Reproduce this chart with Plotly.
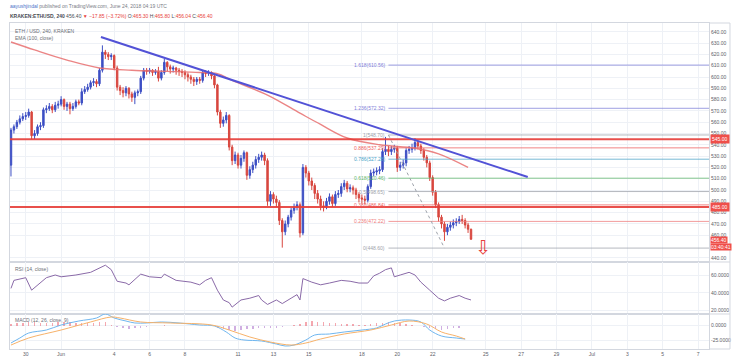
import pandas as pd
import plotly.graph_objects as go
from plotly.subplots import make_subplots

# ---------------- data ----------------
times = pd.date_range("2018-05-29 04:00", periods=157, freq="4h")

opens = [
    522, 553, 556, 560, 563, 565, 566, 569, 548, 550,
    556, 557, 571, 572, 574, 571, 575, 576, 580, 574,
    576, 572, 574, 578, 577, 587, 589, 591, 595, 596,
    594, 606, 622, 620, 618, 619, 608, 591, 588, 586,
    590, 585, 582, 586, 587, 599, 606, 605, 606, 604,
    605, 599, 604, 613, 609, 607, 608, 606, 605, 604,
    602, 600, 598, 596, 598, 597, 604, 603, 604, 601,
    593, 569, 559, 562, 566, 538, 526, 531, 522, 528,
    533, 513, 518, 522, 527, 529, 531, 526, 490, 496,
    492, 489, 473, 463, 470, 476, 482, 485, 487, 462,
    520, 515, 508, 504, 497, 492, 486, 485, 490, 494,
    488, 496, 497, 503, 506, 501, 502, 500, 496, 493,
    492, 491, 503, 515, 516, 517, 518, 534, 536, 534,
    536, 537, 520, 522, 524, 535, 536, 537, 542, 539,
    535, 529, 524, 511, 498, 487, 476, 470, 463, 467,
    469, 471, 472, 474, 473, 469, 465.3]
closes = [
    553, 556, 560, 563, 565, 566, 569, 548, 550, 556,
    557, 571, 572, 574, 571, 575, 576, 580, 574, 576,
    572, 574, 578, 577, 587, 589, 591, 595, 596, 594,
    606, 622, 620, 618, 619, 608, 591, 588, 586, 590,
    585, 582, 586, 587, 599, 606, 605, 606, 604, 605,
    599, 604, 613, 609, 607, 608, 606, 605, 604, 602,
    600, 598, 596, 598, 597, 604, 603, 604, 601, 593,
    569, 559, 562, 566, 538, 526, 531, 522, 528, 533,
    513, 518, 522, 527, 529, 531, 526, 490, 496, 492,
    489, 473, 463, 470, 476, 482, 485, 487, 462, 520,
    515, 508, 504, 497, 492, 486, 485, 490, 494, 488,
    496, 497, 503, 506, 501, 502, 500, 496, 493, 492,
    491, 503, 515, 516, 517, 518, 534, 536, 534, 536,
    537, 520, 522, 524, 535, 536, 537, 542, 539, 535,
    529, 524, 511, 498, 487, 476, 470, 463, 467, 469,
    471, 472, 474, 473, 469, 465.3, 456.4]
highs = [
    555, 558, 562, 566, 568, 569, 572, 570, 553, 558,
    560, 573, 575, 577, 576, 578, 579, 583, 581, 578,
    578, 577, 580, 580, 590, 592, 594, 597, 599, 598,
    608, 628, 624, 622, 621, 620, 610, 593, 591, 592,
    591, 587, 588, 589, 601, 608, 608, 608, 607, 607,
    609, 606, 616, 614, 611, 610, 609, 608, 607, 606,
    604, 602, 600, 600, 600, 606, 606, 606, 605, 603,
    594, 571, 565, 569, 567, 540, 534, 533, 531, 535,
    534, 521, 525, 530, 532, 534, 533, 528, 499, 498,
    495, 491, 475, 473, 478, 484, 488, 490, 489, 523,
    522, 517, 511, 506, 500, 495, 490, 493, 497, 496,
    499, 500, 506, 509, 508, 505, 504, 502, 498, 496,
    495, 505, 518, 519, 520, 521, 537, 547, 539, 539,
    540, 539, 525, 527, 537, 539, 541, 546, 544, 541,
    537, 531, 526, 513, 500, 489, 478, 472, 470, 472,
    474, 475, 477, 478, 475, 471, 465.8]
lows = [
    512, 550, 554, 558, 561, 562, 564, 545, 545, 548,
    553, 555, 568, 570, 568, 569, 572, 574, 571, 570,
    567, 570, 572, 575, 575, 585, 587, 589, 592, 591,
    592, 604, 616, 615, 615, 606, 588, 584, 582, 583,
    581, 578, 576, 583, 585, 597, 602, 603, 601, 602,
    596, 597, 602, 605, 603, 604, 602, 601, 600, 598,
    596, 594, 592, 593, 594, 595, 600, 601, 598, 590,
    566, 555, 556, 559, 535, 522, 523, 519, 519, 525,
    509, 510, 515, 519, 524, 526, 522, 486, 486, 488,
    485, 469, 449, 460, 467, 473, 479, 482, 458, 460,
    511, 504, 500, 492, 488, 482, 481, 483, 487, 485,
    486, 493, 494, 500, 498, 498, 496, 492, 489, 488,
    487, 489, 501, 512, 513, 514, 516, 531, 530, 531,
    533, 516, 517, 519, 521, 532, 533, 535, 536, 532,
    526, 520, 508, 495, 484, 472, 466, 455, 460, 464,
    466, 468, 470, 470, 466, 462, 456.04]

# EMA(100) (candle index, value)
ema_idx = [0, 8, 19, 30, 41, 53, 64, 70, 75, 87, 98, 105, 114, 125, 137, 145, 155]
ema_val = [631, 624, 615, 608, 606, 605, 604, 603, 597, 584, 568, 558, 546, 540, 537, 532, 520]

# RSI(14)
rsi_idx = [0, 1, 5, 7, 12, 15, 17, 22, 27, 30, 32, 34, 36, 39, 40, 44, 47, 51, 52, 56,
           61, 64, 66, 68, 70, 72, 74, 75, 78, 81, 84, 85, 87, 90, 92, 95, 97, 98, 99, 102,
           105, 108, 112, 115, 118, 121, 123, 125, 127, 129, 130, 132, 134, 135, 137, 139,
           142, 145, 147, 149, 152, 154, 156]
rsi_val = [45, 54, 57, 43, 57, 60, 58, 60, 63, 68, 71, 66, 53, 51, 49, 61, 58, 57, 61, 54,
           52, 49, 54, 57, 43, 32, 29, 24, 32, 34, 37, 32, 27, 32, 28, 34, 38, 32, 56, 52,
           49, 51, 54, 53, 51, 51, 59, 62, 66, 68, 58, 60, 62, 63, 60, 52,
           43, 34, 31, 34, 37, 34, 32]

# MACD(12,26,9)
macd_idx = [0, 3, 6, 12, 17, 23, 29, 32, 35, 39, 42, 46, 51, 57, 64, 69, 73, 76, 79, 85,
            90, 93, 96, 100, 103, 108, 113, 119, 124, 127, 130, 135, 139, 142, 146, 151, 154]
macd_val = [-28.8, -20.5, -12.2, -7.2, 1.2, 7.8, 12.8, 19.5, 12.8, 7.8, 4.5, 4.5, 6.2, 4.5,
            1.2, -0.5, -10.5, -20.5, -23.8, -25.5, -30.5, -33.8, -32.2, -23.8, -15.5, -13.8,
            -10.5, -7.2, -3.8, 2.8, 7.8, 9.5, 6.2, -7.2, -17.2, -20.5, -22.2]
signal_idx = [0, 6, 17, 27, 34, 37, 44, 54, 68, 74, 81, 88, 95, 100, 105, 113, 122, 129,
              135, 141, 146, 151, 154]
signal_val = [-32.2, -20.5, -7.2, 6.2, 14.5, 12.8, 6.2, 4.5, 1.2, -7.2, -18.8, -27.2, -32.2,
              -28.8, -22.2, -13.8, -7.2, 1.2, 7.8, 2.8, -10.5, -17.2, -22.2]
hist_idx = list(range(0, 157, 2))
hist_val = [3, 4, 5, 6, 6, 5, 5, 5, 6, 6,
            6, 5, 5, 5, 5, 6, 6, 1, -2, -4,
            -5, -4, -3, -2, -1, 0, 1, 0, 0, 0,
            -1, -1, 0, 0, -1, -3, -5, -7, -8, -7,
            -6, -5, -4, -4, -4, -3, -2, -1, 1, 3,
            6, 8, 7, 6, 5, 4, 3, 3, 3, 2,
            2, 3, 4, 5, 6, 5, 4, 3, 1, 0,
            -2, -4, -6, -7, -6, -4, -3, -1, 0]

# drawings
trend_x = ["2018-06-03 06:00", "2018-06-27 09:00"]
trend_y = [635.4, 511.5]
hlines = [545.00, 485.00]
hline_labels = ["545.00", "485.00"]
fib_levels = [0, 0.236, 0.382, 0.5, 0.618, 0.786, 0.886, 1, 1.236, 1.618]
fib_prices = [448.60, 472.22, 486.84, 498.65, 510.46, 527.28, 537.29, 548.70, 572.32, 610.56]
fib_start_idx = 128
fib_anchor_idx = [128, 147]
fib_anchor_y = [548.70, 448.60]
arrow_pos = ("2018-06-24 20:00", 449.5)

x_range = ["2018-05-29 02:40", "2018-07-07 14:50"]
date_ticks = ["2018-05-30", "2018-06-01", "2018-06-04", "2018-06-06", "2018-06-08",
              "2018-06-11", "2018-06-13", "2018-06-15", "2018-06-18", "2018-06-20",
              "2018-06-22", "2018-06-25", "2018-06-27", "2018-06-29", "2018-07-01",
              "2018-07-03", "2018-07-05", "2018-07-07"]
date_labels = ["30", "Jun", "4", "6", "8", "11", "13", "15", "18", "20", "22", "25", "27",
               "29", "Jul", "3", "5", "7"]
# (450.00 is hidden behind the countdown label in the reference)
price_ticks = [440, 460, 470, 480, 490, 500, 510, 520, 530, 540, 550, 560, 570, 580, 590,
               600, 610, 620, 630, 640]
rsi_ticks = [20, 40, 60]
macd_ticks = [-25, 0]

# ---------------- styles ----------------
UP = "#3d4fc4"
DN = "#d8473f"
GRID = "#eef1f6"
BORDER = "#d3d7df"
TXT = "#5d6068"
FONT = "Liberation Sans"
FS = 5
fib_colors = ["#9ea3ab", "#ef7b7b", "#ee5d5d", "#9ea3ab", "#5fb86a", "#4aa3c8",
              "#ee5d5d", "#9ea3ab", "#7f80d9", "#7f80d9"]

fig = make_subplots(rows=3, cols=1, shared_xaxes=True, vertical_spacing=0)

# fib lines (beneath candles)
fib_x0 = times[fib_start_idx]
for lv, p, c in zip(fib_levels, fib_prices, fib_colors):
    fig.add_trace(go.Scatter(x=[fib_x0, pd.Timestamp(x_range[1])], y=[p, p], mode="lines",
                             line=dict(color=c, width=1), opacity=0.75,
                             hoverinfo="skip", showlegend=False), row=1, col=1)
    fig.add_annotation(x=fib_x0, y=p, xref="x", yref="y", text=f"{lv:g}({p:.2f})",
                       xanchor="right", yanchor="middle", showarrow=False, xshift=-1,
                       font=dict(size=FS, color=c, family=FONT))

fig.add_trace(go.Scatter(x=[times[i] for i in fib_anchor_idx], y=fib_anchor_y, mode="lines",
                         line=dict(color="#9ea3ab", width=1, dash="dot"),
                         hoverinfo="skip", showlegend=False), row=1, col=1)

# EMA
fig.add_trace(go.Scatter(x=[times[i] for i in ema_idx], y=ema_val, mode="lines",
                         line=dict(color="rgba(231,110,110,0.85)", width=1.4, shape="spline"),
                         hoverinfo="skip", showlegend=False), row=1, col=1)

# horizontal support/resistance lines
for h in hlines:
    fig.add_trace(go.Scatter(x=[pd.Timestamp(x_range[0]), pd.Timestamp(x_range[1])], y=[h, h],
                             mode="lines", line=dict(color="rgba(230,60,55,0.9)", width=2),
                             hoverinfo="skip", showlegend=False), row=1, col=1)

# candles
fig.add_trace(go.Candlestick(x=times, open=opens, high=highs, low=lows, close=closes,
                             increasing=dict(line=dict(color=UP, width=1), fillcolor=UP),
                             decreasing=dict(line=dict(color=DN, width=1), fillcolor=DN),
                             whiskerwidth=0, showlegend=False, hoverinfo="skip"),
              row=1, col=1)

# trend line
fig.add_trace(go.Scatter(x=trend_x, y=trend_y, mode="lines",
                         line=dict(color="#5252d6", width=2),
                         hoverinfo="skip", showlegend=False), row=1, col=1)

# RSI
fig.add_hrect(y0=30, y1=70, row=2, col=1, fillcolor="rgba(215,160,230,0.25)", line_width=0,
              layer="below")
for lv in (70, 30):
    fig.add_hline(y=lv, row=2, col=1, line=dict(color="#b9a9c9", width=1, dash="dash"))
fig.add_trace(go.Scatter(x=[times[i] for i in rsi_idx], y=rsi_val, mode="lines",
                         line=dict(color="#8a6aa8", width=1),
                         hoverinfo="skip", showlegend=False), row=2, col=1)

# MACD
fig.add_trace(go.Bar(x=[times[i] for i in hist_idx], y=hist_val,
                     marker=dict(color=["rgba(236,96,110,0.55)" if v >= 0 else "rgba(170,110,200,0.55)"
                                        for v in hist_val], line_width=0),
                     width=1000 * 3600 * 2.0, hoverinfo="skip", showlegend=False), row=3, col=1)
fig.add_trace(go.Scatter(x=[times[i] for i in macd_idx], y=macd_val, mode="lines",
                         line=dict(color="#6fb6ef", width=1, shape="spline"),
                         hoverinfo="skip", showlegend=False), row=3, col=1)
fig.add_trace(go.Scatter(x=[times[i] for i in signal_idx], y=signal_val, mode="lines",
                         line=dict(color="#f7b26a", width=1, shape="spline"),
                         hoverinfo="skip", showlegend=False), row=3, col=1)

# ---------------- axes ----------------
for r in (1, 2, 3):
    fig.update_xaxes(row=r, col=1, range=x_range, type="date", tickvals=date_ticks,
                     ticktext=date_labels, showgrid=True, gridcolor=GRID, gridwidth=1,
                     showline=True, linecolor=BORDER, mirror=True, zeroline=False,
                     rangeslider_visible=False, showticklabels=(r == 3), ticks="",
                     automargin=False,
                     tickfont=dict(size=FS, color=TXT, family=FONT))
fig.update_yaxes(row=1, col=1, side="right", range=[436.3, 647.8], tickvals=price_ticks,
                 ticktext=[f"{v:.2f}" for v in price_ticks])
fig.update_yaxes(row=2, col=1, side="right", range=[16.3, 74.6], tickvals=rsi_ticks,
                 ticktext=[f"{v:.4f}" for v in rsi_ticks])
fig.update_yaxes(row=3, col=1, side="right", range=[-38.8, 19.5], tickvals=macd_ticks,
                 ticktext=[f"{v:.4f}" for v in macd_ticks])
fig.update_yaxes(showgrid=True, gridcolor=GRID, showline=True, linecolor=BORDER, mirror=True,
                 zeroline=False, ticks="", automargin=False,
                 tickfont=dict(size=FS, color=TXT, family=FONT))

fig.update_layout(
    width=742, height=360,
    margin=dict(l=10, r=33, t=23, b=11, autoexpand=False),
    paper_bgcolor="white", plot_bgcolor="white",
    font=dict(family=FONT, size=FS, color=TXT),
    bargap=0, showlegend=False,
    yaxis=dict(domain=[0.2669, 1.0]),
    yaxis2=dict(domain=[0.1074, 0.2669]),
    yaxis3=dict(domain=[0.0, 0.1074]),
)

# outer frame around the price-scale column
FRAME_X = 1.03
for yb in (1.0, 0.2669, 0.1074, 0.0):
    fig.add_shape(type="line", xref="paper", yref="paper", x0=1, x1=FRAME_X, y0=yb, y1=yb,
                  line=dict(color=BORDER, width=1))
fig.add_shape(type="line", xref="paper", yref="paper", x0=FRAME_X, x1=FRAME_X, y0=0, y1=1,
              line=dict(color=BORDER, width=1))

# right-axis price labels
for h, t in zip(hlines, hline_labels):
    fig.add_annotation(x=1, xref="paper", y=h, yref="y", text=t, xanchor="left", xshift=1,
                       showarrow=False, bgcolor="#ef4f4a", borderpad=1,
                       font=dict(size=FS, color="white", family=FONT))
fig.add_annotation(x=1, xref="paper", y=closes[-1], yref="y", text=f"{closes[-1]:.2f}",
                   xanchor="left", xshift=1, yshift=-1, showarrow=False, bgcolor="#ef4f4a",
                   borderpad=0, font=dict(size=FS, color="white", family=FONT))
fig.add_annotation(x=1, xref="paper", y=closes[-1], yref="y", text="03:40:41",
                   xanchor="left", xshift=1, yshift=-8, showarrow=False, bgcolor="#ef4f4a",
                   borderpad=0, font=dict(size=FS, color="white", family=FONT))

# arrow
fig.add_annotation(x=arrow_pos[0], y=arrow_pos[1], xref="x", yref="y", text="⇩",
                   showarrow=False, font=dict(size=19, color="#e8413b", family="DejaVu Sans"))

# header & pane legends
fig.add_annotation(x=-0.003, y=1.052, xref="paper", yref="paper", xanchor="left",
                   yanchor="middle", showarrow=False, align="left",
                   text="<span style='color:#4b74c9'>aayushjindal</span> published on TradingView.com, June 24, 2018 04:19 UTC",
                   font=dict(size=FS, color="#7a7d85", family=FONT))
fig.add_annotation(x=-0.003, y=1.02, xref="paper", yref="paper", xanchor="left",
                   yanchor="middle", showarrow=False, align="left",
                   text="<b>KRAKEN:ETHUSD, 240</b> 456.40 <span style='color:#e8413b'>▼ −17.85 (−3.72%)</span> O:<span style='color:#e8413b'>465.30</span> H:<span style='color:#e8413b'>465.80</span> L:<span style='color:#e8413b'>456.04</span> C:<span style='color:#e8413b'>456.40</span>",
                   font=dict(size=FS, color="#4a4d55", family=FONT))
fig.add_annotation(x=0.005, y=0.99, xref="paper", yref="paper", xanchor="left",
                   yanchor="top", showarrow=False, align="left",
                   text="ETH / USD, 240, KRAKEN<br>EMA (100, close)",
                   font=dict(size=FS, color="#6d7078", family=FONT))
fig.add_annotation(x=0.005, y=0.262, xref="paper", yref="paper", xanchor="left",
                   yanchor="top", showarrow=False, text="RSI (14, close)",
                   font=dict(size=FS, color="#6d7078", family=FONT))
fig.add_annotation(x=0.005, y=0.104, xref="paper", yref="paper", xanchor="left",
                   yanchor="top", showarrow=False, text="MACD (12, 26, close, 9)",
                   font=dict(size=FS, color="#6d7078", family=FONT))

fig.write_html("out.html", config={"displayModeBar": False},
               post_script="document.body.style.margin='0';")
